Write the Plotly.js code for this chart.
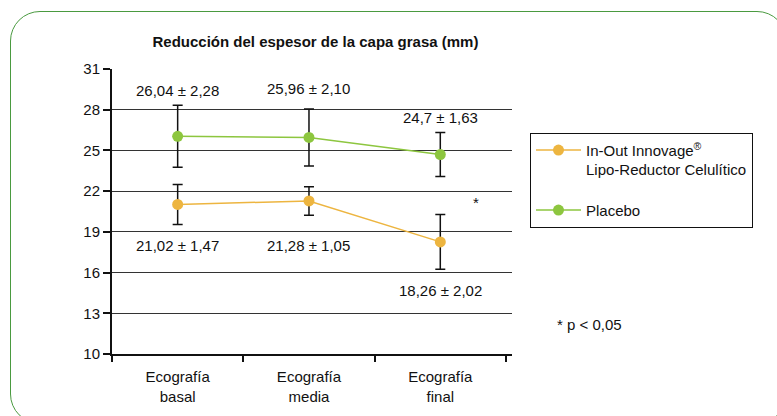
<!DOCTYPE html>
<html>
<head>
<meta charset="utf-8">
<script src="https://cdn.plot.ly/plotly-3.0.1.min.js"></script>
<style>
  html, body { margin:0; padding:0; background:#fff; }
  #wrap { position:relative; width:777px; height:416px; overflow:hidden; }
  #frame { position:absolute; left:10px; top:11px; width:777px; height:413px;
           border:1.5px solid #4a9a40; border-radius:30px; box-sizing:border-box; }
  #chart { position:absolute; left:0; top:0; width:777px; height:416px; }
</style>
</head>
<body>
<div id="wrap">
  <div id="frame"></div>
  <div id="chart"></div>
</div>
<script>
const categories = ["Ecografía<br>basal", "Ecografía<br>media", "Ecografía<br>final"];
const seriesNames = ["In-Out Innovage<sup>®</sup><br>Lipo-Reductor Celulítico", "Placebo"];
const innovageMean = [21.02, 21.28, 18.26];
const innovageSD = [1.47, 1.05, 2.02];
const placeboMean = [26.04, 25.96, 24.7];
const placeboSD = [2.28, 2.10, 1.63];
const yTicks = [10, 13, 16, 19, 22, 25, 28, 31];
const significance = ["", "", "*"];

const xs = categories.map((c, i) => i);
const fmt = v => String(v).replace('.', ',');
const font = "'Liberation Sans', Arial, sans-serif";
const FS = 15;

const traces = [
  { x: xs, y: innovageMean, name: seriesNames[0], mode: 'lines+markers', legendgroup: 'a',
    line: { color: '#EDB540', width: 1.5 },
    marker: { color: '#EDB540', size: 11 },
    error_y: { type: 'data', array: innovageSD, visible: true, color: '#111', thickness: 1.5, width: 5 } },
  { x: xs, y: placeboMean, name: seriesNames[1], mode: 'lines+markers', legendgroup: 'b',
    line: { color: '#8DC63F', width: 1.5 },
    marker: { color: '#8DC63F', size: 11 },
    error_y: { type: 'data', array: placeboSD, visible: true, color: '#111', thickness: 1.5, width: 5 } }
];

// label offsets (px) from the error-bar ends
const topShift = [15, 20, 15];
const botShift = [-21, -30, -21];

const annotations = [];
placeboMean.forEach((m, i) => {
  annotations.push({ x: i, y: m + placeboSD[i], yshift: topShift[i], text: fmt(m) + ' ± ' + fmt(placeboSD[i].toFixed(2)),
    showarrow: false, font: { family: font, size: FS, color: '#111' } });
});
innovageMean.forEach((m, i) => {
  annotations.push({ x: i, y: m - innovageSD[i], yshift: botShift[i], text: fmt(m) + ' ± ' + fmt(innovageSD[i].toFixed(2)),
    showarrow: false, font: { family: font, size: FS, color: '#111' } });
});
significance.forEach((s, i) => {
  if (s) annotations.push({ x: i + 0.27, y: 21.2, text: s, showarrow: false,
    font: { family: font, size: FS, color: '#111' } });
});
annotations.push({ xref: 'paper', yref: 'paper', x: 1.108, y: 0.102, xanchor: 'left', yanchor: 'middle',
  text: '* p < 0,05', showarrow: false, font: { family: font, size: FS, color: '#111' } });

const layout = {
  width: 777, height: 416,
  margin: { l: 112, r: 265, t: 69, b: 62 },
  paper_bgcolor: 'rgba(0,0,0,0)', plot_bgcolor: 'rgba(0,0,0,0)',
  font: { family: font, size: FS, color: '#111' },
  title: { text: '<b>Reducción del espesor de la capa grasa (mm)</b>', font: { family: font, size: FS, color: '#111' },
    x: 0.406, xanchor: 'center', y: 0.9, yanchor: 'middle', yref: 'container' },
  showlegend: true,
  legend: { x: 1.045, xanchor: 'left', y: 0.776, yanchor: 'top', bordercolor: '#111', borderwidth: 1,
    traceorder: 'grouped', tracegroupgap: 18, valign: 'top', itemwidth: 45,
    font: { family: font, size: FS, color: '#111' } },
  xaxis: { range: [-0.5, 2.546], tickmode: 'array', tickvals: xs, ticktext: categories,
    ticks: '', showgrid: false, zeroline: false, showline: true, linecolor: '#111', linewidth: 2,
    ticklabelstandoff: 8,
    tickfont: { family: font, size: FS, color: '#111' },
    minor: { tickmode: 'array', tickvals: [-0.5, 0.5, 1.5, 2.5], ticks: 'outside', ticklen: 6,
      tickwidth: 2, tickcolor: '#111', showgrid: false } },
  yaxis: { range: [10, 31], tickmode: 'array', tickvals: yTicks, ticks: 'outside', ticklen: 7,
    tickwidth: 2, tickcolor: '#111', showgrid: true, gridcolor: '#333', gridwidth: 1,
    zeroline: false, showline: true, linecolor: '#111', linewidth: 2,
    tickfont: { family: font, size: FS, color: '#111' } },
  annotations: annotations
};

Plotly.newPlot('chart', traces, layout, { displayModeBar: false, staticPlot: true });
</script>
</body>
</html>
